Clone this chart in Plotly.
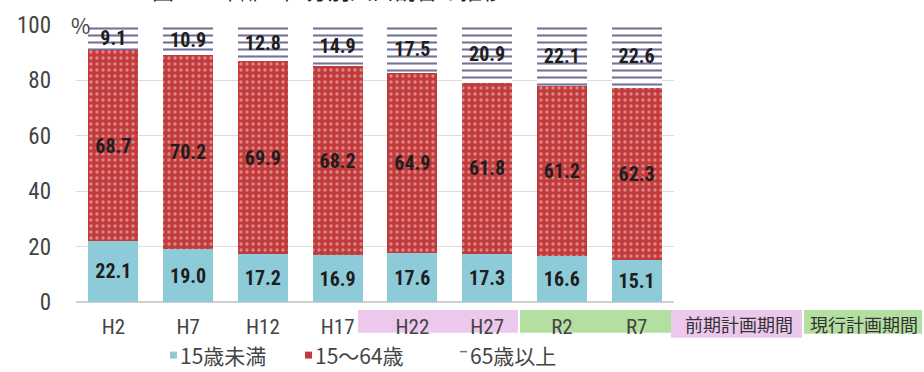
import plotly.graph_objects as go

# Age-group share of population (%) by census year
years = ["H2", "H7", "H12", "H17", "H22", "H27", "R2", "R7"]
under15 = [22.1, 19.0, 17.2, 16.9, 17.6, 17.3, 16.6, 15.1]
age15_64 = [68.7, 70.2, 69.9, 68.2, 64.9, 61.8, 61.2, 62.3]
over65 = [9.1, 10.9, 12.8, 14.9, 17.5, 20.9, 22.1, 22.6]

series_names = ["15歳未満", "15～64歳", "65歳以上"]
period_labels = ["前期計画期間", "現行計画期間"]
title_text = "図　　年齢３区分別人口割合の推移"

W, H = 924, 372
ML, MR, MT, MB = 76, 250, 23, 70
PW, PH = W - ML - MR, H - MT - MB


def px_x(px):
    return (px - ML) / PW


def px_y(py):
    return (H - MB - py) / PH


NUM_FONT = "Roboto Condensed, Liberation Sans Narrow, sans-serif"
JP_FONT = "Noto Sans CJK JP, sans-serif"

BLUE = "#8ecbd9"
RED = "#c23b3c"
STRIPE = "#74729a"

fig = go.Figure()

common = dict(
    x=years,
    textposition="inside",
    insidetextanchor="middle",
    constraintext="none",
    textangle=0,
    textfont=dict(family=NUM_FONT, size=20, color="#1e1e1e", weight="bold"),
    texttemplate="%{y:.1f}",
    hoverinfo="skip",
    showlegend=False,
)

fig.add_bar(
    y=under15,
    name=series_names[0],
    marker=dict(color=BLUE, line=dict(width=0)),
    **common,
)
fig.add_bar(
    y=age15_64,
    name=series_names[1],
    marker=dict(
        color=RED,
        line=dict(width=0),
        pattern=dict(shape=".", fgcolor="#f6d3cf", bgcolor=RED, size=6, solidity=0.25),
    ),
    **common,
)
fig.add_bar(
    y=over65,
    name=series_names[2],
    marker=dict(
        color="white",
        line=dict(width=0),
        pattern=dict(shape="-", fgcolor=STRIPE, bgcolor="white", size=7, solidity=0.3,
                     fillmode="replace"),
    ),
    **common,
)

shapes = []
# Planning-period backgrounds behind the category labels
shapes.append(dict(type="rect", xref="paper", yref="paper",
                   x0=px_x(358), x1=px_x(518), y0=px_y(333), y1=px_y(310),
                   fillcolor="#ecc8ec", line=dict(width=0), layer="below"))
shapes.append(dict(type="rect", xref="paper", yref="paper",
                   x0=px_x(520), x1=px_x(674), y0=px_y(333), y1=px_y(310),
                   fillcolor="#b3e0a0", line=dict(width=0), layer="below"))
# Period key boxes
shapes.append(dict(type="rect", xref="paper", yref="paper",
                   x0=px_x(671), x1=px_x(802), y0=px_y(338), y1=px_y(310),
                   fillcolor="#ecc8ec", line=dict(width=0), layer="below"))
shapes.append(dict(type="rect", xref="paper", yref="paper",
                   x0=px_x(804), x1=px_x(922), y0=px_y(334), y1=px_y(310),
                   fillcolor="#b3e0a0", line=dict(width=0), layer="below"))

# Legend swatches
shapes.append(dict(type="rect", xref="paper", yref="paper",
                   x0=px_x(170), x1=px_x(177), y0=px_y(359), y1=px_y(352),
                   fillcolor=BLUE, line=dict(width=0)))
shapes.append(dict(type="rect", xref="paper", yref="paper",
                   x0=px_x(305), x1=px_x(312), y0=px_y(359), y1=px_y(352),
                   fillcolor=RED, line=dict(width=0)))
shapes.append(dict(type="line", xref="paper", yref="paper",
                   x0=px_x(460), x1=px_x(467), y0=px_y(352), y1=px_y(352),
                   line=dict(color="#777", width=1.5)))

annotations = [
    dict(text=period_labels[0], xref="paper", yref="paper", x=px_x(739), y=px_y(324),
         xanchor="center", yanchor="middle", showarrow=False,
         font=dict(family=JP_FONT, size=18, color="#333")),
    dict(text=period_labels[1], xref="paper", yref="paper", x=px_x(864), y=px_y(324),
         xanchor="center", yanchor="middle", showarrow=False,
         font=dict(family=JP_FONT, size=18, color="#333")),
    dict(text=series_names[0], xref="paper", yref="paper", x=px_x(178), y=px_y(355),
         xanchor="left", yanchor="middle", showarrow=False,
         font=dict(family=JP_FONT, size=21, color="#444")),
    dict(text=series_names[1], xref="paper", yref="paper", x=px_x(313), y=px_y(355),
         xanchor="left", yanchor="middle", showarrow=False,
         font=dict(family=JP_FONT, size=21, color="#444")),
    dict(text=series_names[2], xref="paper", yref="paper", x=px_x(468), y=px_y(355),
         xanchor="left", yanchor="middle", showarrow=False,
         font=dict(family=JP_FONT, size=21, color="#444")),
    dict(text="%", xref="paper", yref="paper", x=px_x(69), y=px_y(23),
         xanchor="left", yanchor="middle", showarrow=False,
         font=dict(family=JP_FONT, size=21, color="#444")),
    dict(text="（%）", xref="paper", yref="paper", x=px_x(7), y=px_y(246),
         xanchor="right", yanchor="middle", showarrow=False,
         font=dict(family=JP_FONT, size=18, color="#333")),
    dict(text=title_text, xref="paper", yref="paper", x=px_x(150), y=px_y(5),
         xanchor="left", yanchor="bottom", showarrow=False,
         font=dict(family=JP_FONT, size=22, color="#222")),
]

fig.update_layout(
    width=W, height=H,
    margin=dict(l=ML, r=MR, t=MT, b=MB),
    barmode="stack",
    bargap=0.33,
    plot_bgcolor="white",
    paper_bgcolor="white",
    shapes=shapes,
    annotations=annotations,
    showlegend=False,
)
fig.update_xaxes(
    showgrid=False,
    showline=False,
    ticks="",
    ticklabelstandoff=10,
    tickfont=dict(family=NUM_FONT, size=21, color="#444"),
)
fig.update_yaxes(
    range=[0, 100],
    tickvals=[0, 20, 40, 60, 80, 100],
    showgrid=True,
    gridcolor="#dcdcdc",
    gridwidth=1,
    zeroline=True,
    zerolinecolor="#d0d0d0",
    ticks="",
    ticklabelstandoff=24,
    tickfont=dict(family=NUM_FONT, size=23, color="#444"),
)

fig.write_html("out.html")
